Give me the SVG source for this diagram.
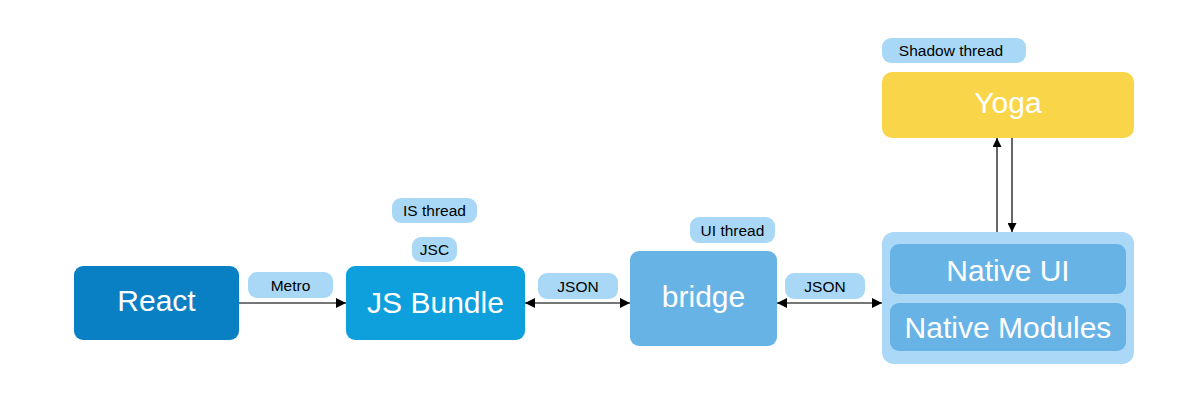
<svg xmlns="http://www.w3.org/2000/svg" width="1200" height="411" viewBox="0 0 1200 411">
<style>
.n{font-family:"Liberation Sans",Arial,sans-serif;font-size:30px;fill:#fff;text-anchor:middle;dominant-baseline:central}
.l{font-family:"Liberation Sans",Arial,sans-serif;font-size:15.5px;fill:#000;text-anchor:middle;dominant-baseline:central}
.lb{fill:#a9d8f6}
.h{stroke:#767676;stroke-width:2;fill:none}
.v{stroke:#000;stroke-width:1.2;fill:none}
</style>
<defs>
<marker id="a" viewBox="0 0 10 10" refX="10" refY="5" markerWidth="10" markerHeight="10" markerUnits="userSpaceOnUse" orient="auto-start-reverse"><path d="M0,0 L10,5 L0,10 z" fill="#000"/></marker>
<marker id="av" viewBox="0 0 10 10" refX="10" refY="5" markerWidth="9" markerHeight="9" markerUnits="userSpaceOnUse" orient="auto-start-reverse"><path d="M0,0 L10,5 L0,10 z" fill="#000"/></marker>
</defs>
<rect width="1200" height="411" fill="#fff"/>
<g id="connectors">
<line class="h" x1="239" y1="303" x2="346" y2="303" marker-end="url(#a)"/>
<line class="h" x1="525" y1="303" x2="630" y2="303" marker-start="url(#a)" marker-end="url(#a)"/>
<line class="h" x1="777" y1="303" x2="882" y2="303" marker-start="url(#a)" marker-end="url(#a)"/>
<line class="v" x1="997" y1="232" x2="997" y2="138" marker-end="url(#av)"/>
<line class="v" x1="1012" y1="138" x2="1012" y2="232" marker-end="url(#av)"/>
</g>
<g id="label-metro"><rect class="lb" x="248" y="272" width="85" height="26" rx="9"/><text class="l" x="290.5" y="285">Metro</text></g>
<g id="label-json1"><rect class="lb" x="538" y="273" width="80" height="26" rx="9"/><text class="l" x="578" y="286">JSON</text></g>
<g id="label-json2"><rect class="lb" x="785" y="273" width="80" height="26" rx="9"/><text class="l" x="825" y="286">JSON</text></g>
<g id="label-is"><rect class="lb" x="392" y="198" width="85" height="25" rx="9"/><text class="l" x="434.5" y="210.5">IS thread</text></g>
<g id="label-jsc"><rect class="lb" x="412" y="237" width="45" height="25" rx="9"/><text class="l" x="434.5" y="249.5">JSC</text></g>
<g id="label-ui"><rect class="lb" x="690" y="217" width="85" height="26" rx="9"/><text class="l" x="732.5" y="230">UI thread</text></g>
<g id="label-shadow"><rect class="lb" x="882" y="38" width="144" height="25" rx="9"/><text class="l" x="951" y="50.5">Shadow thread</text></g>
<g id="react"><rect x="74" y="266" width="165" height="74" rx="9" fill="#0a80c4"/><text class="n" x="156.5" y="300">React</text></g>
<g id="jsbundle"><rect x="346" y="266" width="179" height="74" rx="9" fill="#0ea0dd"/><text class="n" x="435.5" y="302">JS Bundle</text></g>
<g id="bridge"><rect x="630" y="251" width="147" height="95" rx="9" fill="#68b3e6"/><text class="n" x="703.5" y="296">bridge</text></g>
<g id="yoga"><rect x="882" y="72" width="252" height="66" rx="10" fill="#f9d649"/><text class="n" x="1008" y="102">Yoga</text></g>
<g id="native"><rect x="882" y="232" width="252" height="132" rx="12" fill="#aad8f6"/>
<g id="nativeui"><rect x="890" y="244" width="236" height="50" rx="9" fill="#68b3e6"/><text class="n" x="1008" y="270">Native UI</text></g>
<g id="nativemodules"><rect x="890" y="303" width="236" height="48" rx="9" fill="#68b3e6"/><text class="n" x="1008" y="327">Native Modules</text></g>
</g>
</svg>
